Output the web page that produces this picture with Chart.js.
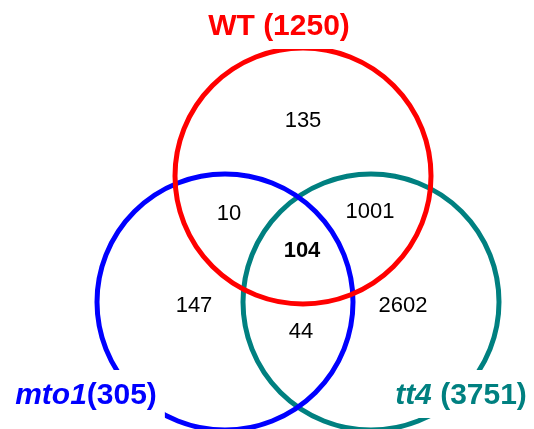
<!DOCTYPE html>
<html>
<head>
<meta charset="utf-8">
<script src="https://cdn.jsdelivr.net/npm/chart.js@4"></script>
<style>
  html, body { margin: 0; padding: 0; background: #fff; }
  #wrap { width: 534px; height: 429px; }
</style>
</head>
<body>
<div id="wrap"><canvas id="venn" width="534" height="429"></canvas></div>
<script>
// sets and region counts
const setNames   = ["WT", "mto1", "tt4"]
const setTotals  = [1250, 305, 3751]
const setItalic  = [false, true, true]
const setGaps    = [" ", "", " "]
const setColors  = ["#FF0000", "#0000FF", "#008080"]

const regionNames  = ["WT only", "WT & mto1", "WT & tt4", "all three", "mto1 only", "tt4 only", "mto1 & tt4"]
const regionCounts = [135, 10, 1001, 104, 147, 2602, 44]

// layout in scale units (scales run 0..534 by 0..429, like the canvas)
const circleCenters = [[303, 176], [225, 302], [371, 302]]
const circleRadius  = 128
const regionSpots   = [[303, 121], [229, 214], [370, 212], [302, 251], [194, 306], [403, 306], [301, 332]]
const titleSpots    = [[279, 27], [86, 396], [461, 396]]

const fontFamily = "Arial, 'Liberation Sans', sans-serif"

const vennText = {
  id: "vennText",
  afterDatasetsDraw(chart) {
    const { ctx } = chart
    const xs = chart.scales.x
    const ys = chart.scales.y
    ctx.save()
    ctx.textBaseline = "middle"

    // set titles, on a white box that hides the circle behind them
    setNames.forEach((name, i) => {
      const parts = [
        { t: name, italic: setItalic[i] },
        { t: setGaps[i] + "(" + setTotals[i] + ")", italic: false }
      ]
      const fontFor = p => (p.italic ? "italic " : "") + "bold 30px " + fontFamily
      let w = 0
      parts.forEach(p => { ctx.font = fontFor(p); w += ctx.measureText(p.t).width })
      const cx = xs.getPixelForValue(titleSpots[i][0])
      const cy = ys.getPixelForValue(titleSpots[i][1])
      ctx.fillStyle = "#fff"
      ctx.fillRect(cx - w / 2 - 8, cy - 26, w + 16, 48)
      ctx.fillStyle = setColors[i]
      ctx.textAlign = "left"
      let px = cx - w / 2
      parts.forEach(p => {
        ctx.font = fontFor(p)
        ctx.fillText(p.t, px, cy)
        px += ctx.measureText(p.t).width
      })
    })

    // region counts
    ctx.textAlign = "center"
    ctx.fillStyle = "#000"
    regionCounts.forEach((n, i) => {
      ctx.font = (i === 3 ? "bold " : "") + "22px " + fontFamily
      ctx.fillText(String(n), xs.getPixelForValue(regionSpots[i][0]), ys.getPixelForValue(regionSpots[i][1]))
    })
    ctx.restore()
  }
}

const datasets = setNames.map((name, i) => ({
  label: name,
  data: [{ x: circleCenters[i][0], y: circleCenters[i][1], r: circleRadius }],
  backgroundColor: "rgba(0,0,0,0)",
  borderColor: setColors[i],
  borderWidth: 5,
  hoverBorderWidth: 5,
  clip: false
}))

new Chart(document.getElementById("venn"), {
  type: "bubble",
  data: { datasets },
  options: {
    responsive: false,
    animation: false,
    events: [],
    layout: { padding: 0, autoPadding: false },
    plugins: {
      legend: { display: false },
      tooltip: { enabled: false }
    },
    scales: {
      x: { type: "linear", min: 0, max: 534, display: false },
      y: { type: "linear", min: 0, max: 429, reverse: true, display: false }
    }
  },
  plugins: [vennText]
})
</script>
</body>
</html>
